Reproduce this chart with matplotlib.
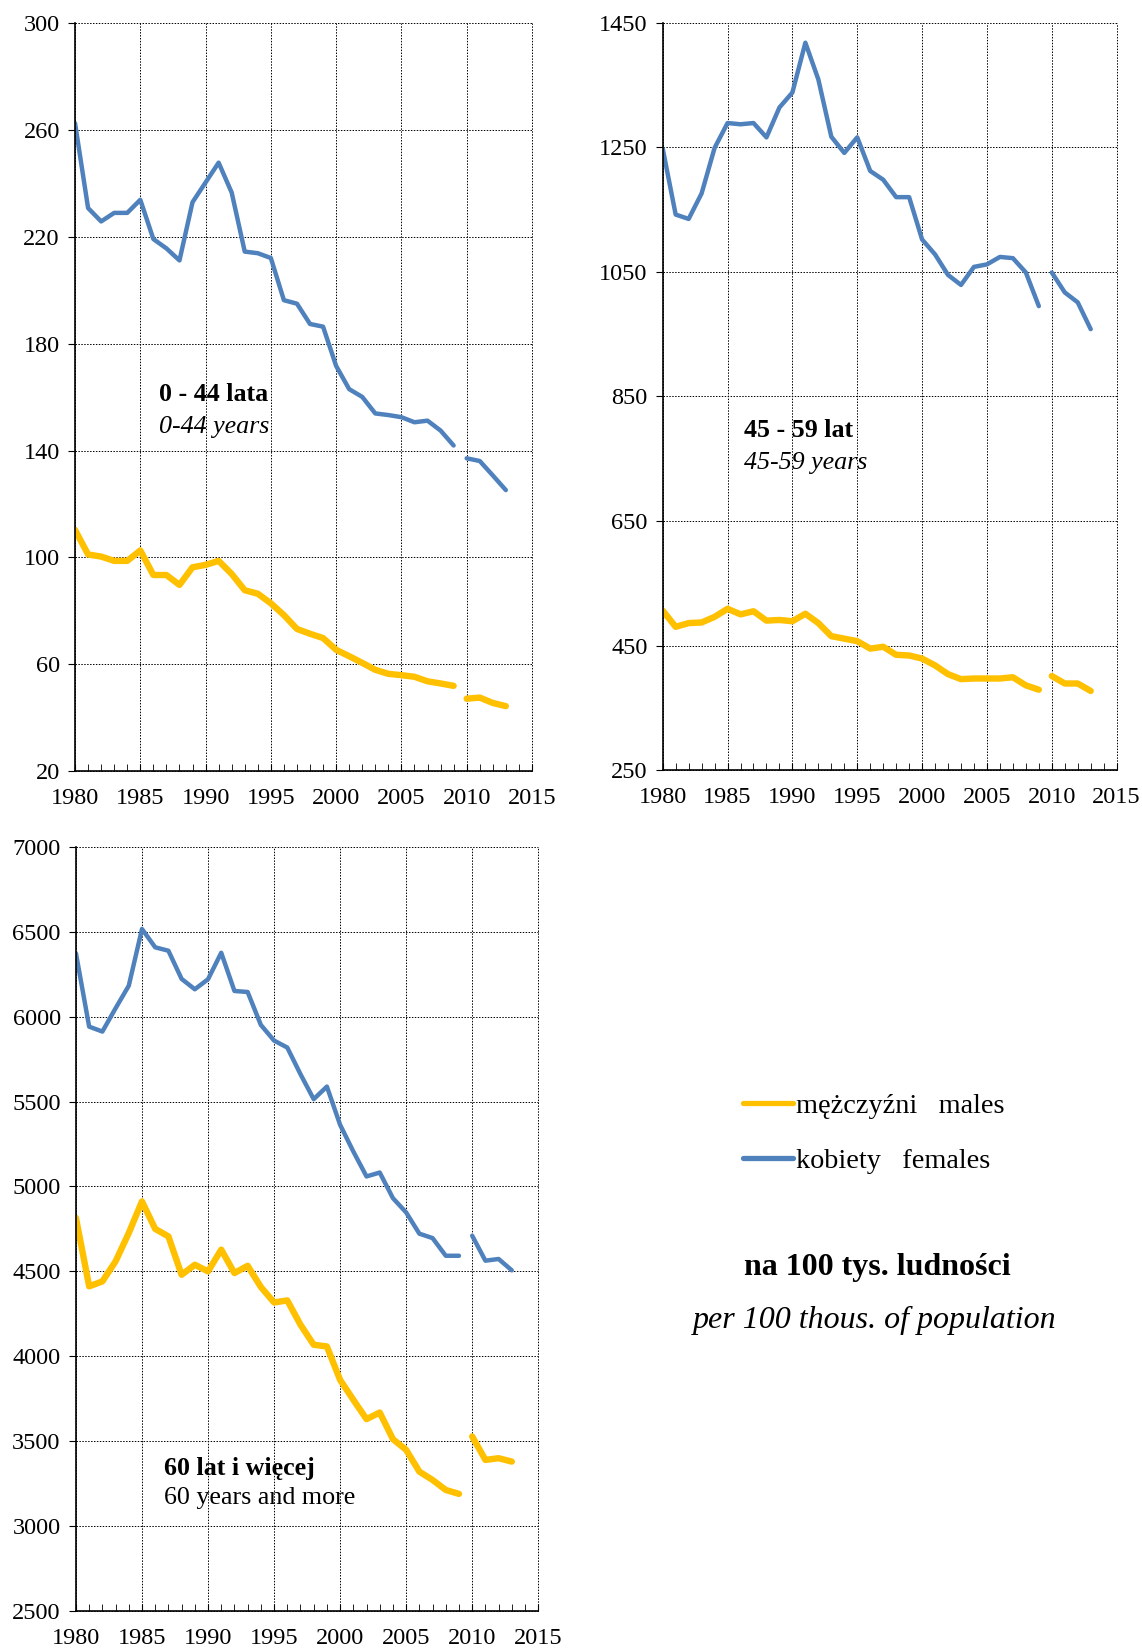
import numpy as np
import matplotlib.pyplot as plt
from matplotlib.ticker import MultipleLocator

plt.rcParams['font.family'] = ['Liberation Serif', 'DejaVu Serif']

years = np.arange(1980, 2014)

# 0-44 years
f_0_44 = [262.6, 230.8, 225.8, 229.0, 229.0, 233.9, 219.2, 215.7, 211.2, 233.0,
          240.4, 247.8, 236.6, 214.5, 213.9, 212.1, 196.3, 195.0, 187.4, 186.4,
          171.7, 163.0, 160.1, 153.9, 153.3, 152.5, 150.6, 151.2, 147.5, 141.9,
          137.1, 136.1, 130.7, 125.2]
m_0_44 = [110.3, 101.1, 100.3, 98.7, 98.7, 102.6, 93.4, 93.4, 89.7, 96.3,
          97.2, 98.7, 93.8, 87.7, 86.4, 82.8, 78.4, 73.2, 71.4, 69.8,
          65.4, 63.0, 60.5, 57.9, 56.4, 55.9, 55.3, 53.6, 52.8, 51.9,
          47.1, 47.5, 45.5, 44.3]

# 45-59 years
f_45_59 = [1248, 1142, 1135, 1176, 1249, 1289, 1287, 1289, 1266, 1314,
           1338, 1418, 1359, 1267, 1241, 1266, 1212, 1198, 1170, 1170,
           1102, 1078, 1045, 1029, 1058, 1062, 1074, 1072, 1049, 995,
           1049, 1017, 1001, 958]
m_45_59 = [506, 480, 486, 487, 496, 509, 500, 505, 490, 491,
           489, 501, 486, 465, 461, 457, 445, 448, 435, 434,
           429, 418, 404, 396, 397, 397, 397, 399, 386, 379,
           401, 389, 389, 377]

# 60 years and more
f_60 = [6373, 5941, 5912, 6049, 6182, 6516, 6408, 6388, 6222, 6161,
        6220, 6376, 6151, 6145, 5951, 5859, 5818, 5661, 5514, 5588,
        5363, 5206, 5059, 5082, 4931, 4847, 4722, 4696, 4592, 4592,
        4710, 4563, 4573, 4506]
m_60 = [4815, 4412, 4441, 4559, 4726, 4912, 4750, 4706, 4480, 4539,
        4500, 4628, 4490, 4533, 4408, 4317, 4329, 4186, 4068, 4058,
        3861, 3744, 3630, 3669, 3512, 3449, 3321, 3272, 3213, 3190,
        3528, 3390, 3400, 3380]

BLUE = '#4F81BD'
YELLOW = '#FFC000'
split = 30  # series break between 2009 and 2010

fig = plt.figure(figsize=(11.42, 16.5), dpi=100)


def panel(rect, fem, mal, ylim, ystep, bold, sub, tx, ty1, ty2, sub_italic=True):
    ax = fig.add_axes(rect)
    for vals, col, lw in ((mal, YELLOW, 4.6), (fem, BLUE, 3.2)):
        vals = np.asarray(vals, dtype=float)
        ax.plot(years[:split], vals[:split], color=col, lw=lw, solid_capstyle='round')
        ax.plot(years[split:], vals[split:], color=col, lw=lw, solid_capstyle='round')
    ax.set_xlim(1980, 2015)
    ax.set_ylim(*ylim)
    ax.xaxis.set_major_locator(MultipleLocator(5))
    ax.xaxis.set_minor_locator(MultipleLocator(1))
    ax.set_yticks(np.arange(ylim[0], ylim[1] + 1, ystep))
    ax.grid(True, which='major', color='black', ls=(0, (1.5, 1.5)), lw=0.7)
    for gl in ax.get_xgridlines() + ax.get_ygridlines():
        gl.set_clip_on(False)
    ax.tick_params(axis='x', which='both', direction='in', length=5, labelsize=17.5, pad=12)
    ax.tick_params(axis='y', direction='out', length=5, labelsize=17.5, pad=6)
    for s in ('top', 'right'):
        ax.spines[s].set_visible(False)
    for s in ('left', 'bottom'):
        ax.spines[s].set_linewidth(1.2)
    ax.text(tx, ty1, bold, fontsize=18.7, fontweight='bold', va='center')
    ax.text(tx, ty2, sub, fontsize=18.7, style='italic' if sub_italic else 'normal', va='center')
    return ax


panel([0.0657, 0.5327, 0.4001, 0.4532], f_0_44, m_0_44, (20, 300), 40,
      '0 - 44 lata', '0-44 years', 1986.4, 161, 149)
panel([0.5803, 0.5333, 0.3975, 0.4529], f_45_59, m_45_59, (250, 1450), 200,
      '45 - 59 lat', '45-59 years', 1986.3, 795, 743)
panel([0.0665, 0.0236, 0.4048, 0.4632], f_60, m_60, (2500, 7000), 500,
      '60 lat i więcej', '60 years and more', 1986.7, 3340, 3163, sub_italic=False)

h_m, = plt.plot([], [], color=YELLOW, lw=3.8, solid_capstyle='round')
h_f, = plt.plot([], [], color=BLUE, lw=3.8, solid_capstyle='round')
fig.legend([h_m, h_f], ['mężczyźni   males', 'kobiety   females'],
           loc='upper left', bbox_to_anchor=(0.628, 0.353), frameon=False,
           fontsize=20.3, handlelength=1.8, handletextpad=0.1, labelspacing=1.05)

fig.text(0.768, 1 - 1267 / 1650, 'na 100 tys. ludności', fontsize=23,
         fontweight='bold', ha='center', va='center')
fig.text(0.766, 1 - 1320 / 1650, 'per 100 thous. of population', fontsize=23,
         style='italic', ha='center', va='center')

fig.savefig('out.png', dpi=100)
